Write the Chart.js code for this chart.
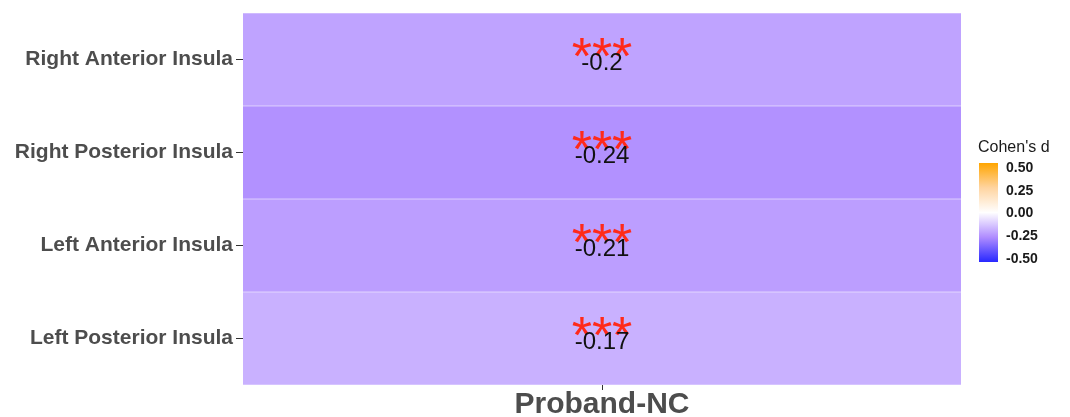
<!DOCTYPE html>
<html>
<head>
<meta charset="utf-8">
<script src="https://cdn.jsdelivr.net/npm/chart.js@4/dist/chart.umd.min.js"></script>
<style>
  body { margin: 0; background: #fff; }
</style>
</head>
<body>
<canvas id="heatmap" width="1070" height="417"></canvas>
<script>
// rows top to bottom
var regions = ['Right Anterior Insula', 'Right Posterior Insula', 'Left Anterior Insula', 'Left Posterior Insula'];
var cohensD = [-0.2, -0.24, -0.21, -0.17];
var signif = ['***', '***', '***', '***'];
var comparison = 'Proband-NC';
var legendTicks = [0.5, 0.25, 0, -0.25, -0.5];

// colour scale: blue - white - orange
var stops = [
  [-0.5, [40, 40, 255]],
  [-0.25, [175, 140, 255]],
  [0, [255, 255, 255]],
  [0.25, [255, 212, 160]],
  [0.5, [255, 165, 0]]
];
function colorFor(v) {
  if (v <= stops[0][0]) return 'rgb(' + stops[0][1].join(',') + ')';
  for (var i = 1; i < stops.length; i++) {
    if (v <= stops[i][0]) {
      var a = stops[i - 1], b = stops[i];
      var t = (v - a[0]) / (b[0] - a[0]);
      var c = a[1].map(function (x, k) { return Math.round(x + (b[1][k] - x) * t); });
      return 'rgb(' + c.join(',') + ')';
    }
  }
  return 'rgb(' + stops[stops.length - 1][1].join(',') + ')';
}

// stars and values inside each tile
var cellText = {
  id: 'cellText',
  afterDatasetsDraw: function (chart) {
    var ctx = chart.ctx;
    var meta = chart.getDatasetMeta(0);
    var cx = (chart.chartArea.left + chart.chartArea.right) / 2;
    ctx.save();
    ctx.textAlign = 'center';
    ctx.textBaseline = 'alphabetic';
    meta.data.forEach(function (bar, i) {
      var cy = bar.y;
      ctx.fillStyle = '#ff2a1a';
      ctx.font = '52px "Liberation Sans", Arial, sans-serif';
      ctx.fillText(signif[i], cx, cy + 14);
      ctx.fillStyle = '#111';
      ctx.font = '24px "Liberation Sans", Arial, sans-serif';
      ctx.fillText(String(cohensD[i]), cx, cy + 10);
    });
    ctx.restore();
  }
};

// colour bar legend
var colorBar = {
  id: 'colorBar',
  afterDraw: function (chart) {
    var ctx = chart.ctx;
    var x = 979, top = 163, bottom = 262, w = 19;
    ctx.save();
    var g = ctx.createLinearGradient(0, top, 0, bottom);
    for (var k = 0; k <= 20; k++) {
      var v = 0.5 - k / 20;
      g.addColorStop(k / 20, colorFor(v));
    }
    ctx.fillStyle = g;
    ctx.fillRect(x, top, w, bottom - top);
    ctx.fillStyle = '#1a1a1a';
    ctx.font = '16px "Liberation Sans", Arial, sans-serif';
    ctx.textAlign = 'left';
    ctx.textBaseline = 'middle';
    ctx.fillText("Cohen's d", 978, 148);
    ctx.font = 'bold 14px "Liberation Sans", Arial, sans-serif';
    legendTicks.forEach(function (t) {
      var y = top + 5 + (0.5 - t) * (bottom - top - 8);
      ctx.fillText(t.toFixed(2), 1006, y);
    });
    ctx.restore();
  }
};

var ctx = document.getElementById('heatmap').getContext('2d');
var chart = new Chart(ctx, {
  type: 'bar',
  data: {
    labels: regions,
    datasets: [{
      data: regions.map(function () { return 1; }),
      backgroundColor: cohensD.map(colorFor),
      borderColor: 'rgba(255,255,255,0.45)',
      borderWidth: { top: 0.5, bottom: 0.5, left: 0, right: 0 },
      borderSkipped: false,
      barPercentage: 1,
      categoryPercentage: 1
    }]
  },
  options: {
    indexAxis: 'y',
    responsive: false,
    animation: false,
    layout: { padding: { top: 13, right: 109, bottom: 0, left: 0 } },
    plugins: { legend: { display: false }, tooltip: { enabled: false } },
    scales: {
      x: {
        type: 'linear',
        min: 0,
        max: 1,
        border: { display: false },
        grid: { drawOnChartArea: false, tickLength: 5, color: '#333' },
        afterBuildTicks: function (axis) { axis.ticks = [{ value: 0.5 }]; },
        ticks: {
          callback: function () { return comparison; },
          padding: -3,
          color: '#4d4d4d',
          maxRotation: 0,
          font: { family: '"Liberation Sans", Arial, sans-serif', size: 30, weight: 'bold' }
        },
        afterFit: function (axis) {
          axis.height = 32;
          axis.paddingLeft = 0;
          axis.paddingRight = 0;
        }
      },
      y: {
        border: { display: false },
        grid: { drawOnChartArea: false, offset: false, tickLength: 7, color: '#333' },
        ticks: {
          color: '#4d4d4d',
          padding: 3,
          font: { family: '"Liberation Sans", Arial, sans-serif', size: 21, weight: 'bold' }
        },
        afterFit: function (axis) {
          axis.width = 243;
          axis.paddingTop = 0;
          axis.paddingBottom = 0;
        }
      }
    }
  },
  plugins: [cellText, colorBar]
});
</script>
</body>
</html>
